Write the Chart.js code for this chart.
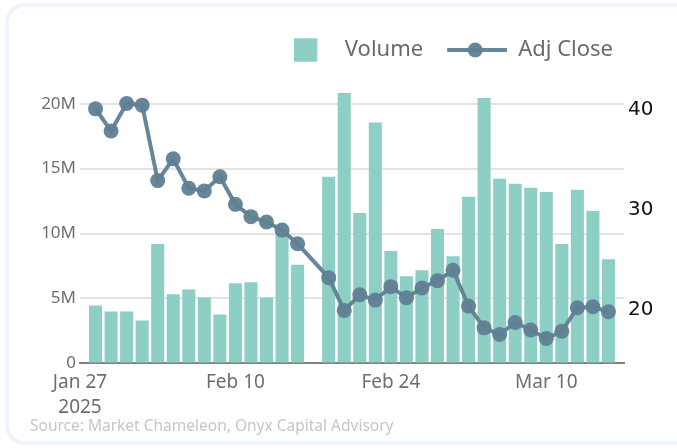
<!DOCTYPE html>
<html>
<head>
<meta charset="utf-8">
<script src="https://cdn.jsdelivr.net/npm/chart.js@4.4.1/dist/chart.umd.min.js"></script>
<style>
  html, body { margin: 0; padding: 0; background: #fff; }
  body { width: 677px; height: 448px; position: relative; overflow: hidden; }
  .card { position: absolute; left: 5px; top: 3px; width: 720px; height: 434px;
          border: 4px solid #eef4fd; border-radius: 20px; }
  #chart { position: absolute; left: 0; top: 0; }
</style>
</head>
<body>
<div class="card"></div>
<canvas id="chart" width="677" height="448"></canvas>
<script>
// trading-day slots (weekends removed), Feb 17 and the end slot are empty
const dates = ['Jan 27', 'Jan 28', 'Jan 29', 'Jan 30', 'Jan 31',
  'Feb 3', 'Feb 4', 'Feb 5', 'Feb 6', 'Feb 7',
  'Feb 10', 'Feb 11', 'Feb 12', 'Feb 13', 'Feb 14',
  'Feb 17', 'Feb 18', 'Feb 19', 'Feb 20', 'Feb 21',
  'Feb 24', 'Feb 25', 'Feb 26', 'Feb 27', 'Feb 28',
  'Mar 3', 'Mar 4', 'Mar 5', 'Mar 6', 'Mar 7',
  'Mar 10', 'Mar 11', 'Mar 12', 'Mar 13', 'Mar 14', 'Mar 17'];

// volume in millions
const volume = [null, 4.46, 4.0, 4.0, 3.30,
  9.19, 5.32, 5.70, 5.08, 3.77,
  6.17, 6.25, 5.08, 10.06, 7.59,
  null, 14.37, 20.83, 11.59, 18.55,
  8.65, 6.71, 7.17, 10.35, 8.26,
  12.83, 20.44, 14.22, 13.83, 13.52,
  13.21, 9.19, 13.37, 11.74, 8.03, null];

const adjClose = [null, 40.06, 37.85, 40.6, 40.43,
  32.9, 35.08, 32.14, 31.87, 33.28,
  30.53, 29.3, 28.77, 27.96, 26.59,
  null, 23.21, 19.94, 21.5, 20.97,
  22.31, 21.2, 22.18, 22.91, 23.95,
  20.37, 18.2, 17.53, 18.74, 17.99,
  17.13, 17.86, 20.2, 20.3, 19.8, null];

const xTickIndex = [0, 10, 20, 30];
const xTickText = [['Jan 27', '2025'], 'Feb 10', 'Feb 24', 'Mar 10'];
const volumeTicks = [0, 5, 10, 15, 20];
const priceTicks = [20, 30, 40];

const barColor = '#8dcfc5';
const lineColor = 'rgba(96,128,148,0.95)';

// legend symbols
function makeSymbol(kind) {
  const c = document.createElement('canvas');
  c.width = 64; c.height = 24;
  const g = c.getContext('2d');
  if (kind === 'bar') {
    g.fillStyle = barColor;
    g.fillRect(24, 0.3, 23.4, 23.4);
  } else {
    g.strokeStyle = lineColor;
    g.lineWidth = 4;
    g.beginPath(); g.moveTo(4, 12); g.lineTo(64, 12); g.stroke();
    g.fillStyle = lineColor;
    g.beginPath(); g.arc(32, 12, 7.5, 0, Math.PI * 2); g.fill();
  }
  return c;
}
const symbols = [makeSymbol('bar'), makeSymbol('line')];

const legendShift = {
  id: 'legendShift',
  afterLayout(chart) {
    chart.legend.right = 633;
  }
};

new Chart(document.getElementById('chart'), {
  data: {
    labels: dates,
    datasets: [
      {
        type: 'bar',
        label: 'Volume',
        data: volume,
        backgroundColor: barColor,
        yAxisID: 'y',
        order: 1,
        barPercentage: 0.84,
        categoryPercentage: 1
      },
      {
        type: 'line',
        label: 'Adj Close',
        data: adjClose,
        yAxisID: 'y1',
        order: 0,
        borderColor: lineColor,
        backgroundColor: lineColor,
        borderWidth: 4,
        pointRadius: 7.5,
        pointBorderWidth: 0,
        pointBackgroundColor: lineColor,
        spanGaps: true,
        tension: 0
      }
    ]
  },
  options: {
    responsive: false,
    animation: false,
    layout: { padding: { left: 30, right: 25, top: 19, bottom: 12 } },
    plugins: {
      tooltip: { enabled: false },
      legend: {
        position: 'top',
        align: 'end',
        labels: {
          usePointStyle: true,
          pointStyleWidth: 64,
          padding: 20,
          color: '#6a6a6a',
          font: { family: 'Noto Sans', size: 22 },
          generateLabels(chart) {
            const items = Chart.defaults.plugins.legend.labels.generateLabels(chart);
            items.sort((a, b) => a.datasetIndex - b.datasetIndex);
            items.forEach(it => { it.pointStyle = symbols[it.datasetIndex]; });
            return items;
          }
        }
      },
      title: {
        display: true,
        position: 'bottom',
        align: 'start',
        text: 'Source: Market Chameleon, Onyx Capital Advisory',
        color: '#c6c6c6',
        font: { family: 'Noto Sans', size: 15.5, weight: 'normal' },
        padding: 0
      }
    },
    scales: {
      x: {
        type: 'category',
        offset: false,
        grid: { display: true, drawOnChartArea: false, drawTicks: false },
        border: { display: true, color: '#808080', width: 2 },
        ticks: {
          autoSkip: false,
          maxRotation: 0,
          padding: 7,
          color: '#6e6e6e',
          font: { family: 'Noto Sans', size: 19, lineHeight: 1.29 },
          callback: (v, i) => {
            const k = xTickIndex.indexOf(i);
            return k >= 0 ? xTickText[k] : '';
          }
        },
        afterFit(axis) { axis.height = 54; }
      },
      y: {
        position: 'left',
        min: 0,
        max: 22.52,
        grid: { color: '#e3e3e3', lineWidth: 2, drawTicks: false },
        border: { display: false },
        ticks: {
          padding: 4,
          color: '#6e6e6e',
          font: { family: 'Noto Sans', size: 17 },
          callback: v => v === 0 ? '0' : v + 'M'
        },
        afterBuildTicks(axis) { axis.ticks = volumeTicks.map(v => ({ value: v })); },
        afterFit(axis) { axis.width = 50; }
      },
      y1: {
        position: 'right',
        min: 14.65,
        max: 43.84,
        grid: { drawOnChartArea: false, drawTicks: false },
        border: { display: false },
        ticks: {
          padding: 4,
          color: '#111',
          font: { family: 'DejaVu Sans', size: 20 }
        },
        afterBuildTicks(axis) { axis.ticks = priceTicks.map(v => ({ value: v })); },
        afterFit(axis) { axis.width = 28; }
      }
    }
  },
  plugins: [legendShift]
});
</script>
</body>
</html>
